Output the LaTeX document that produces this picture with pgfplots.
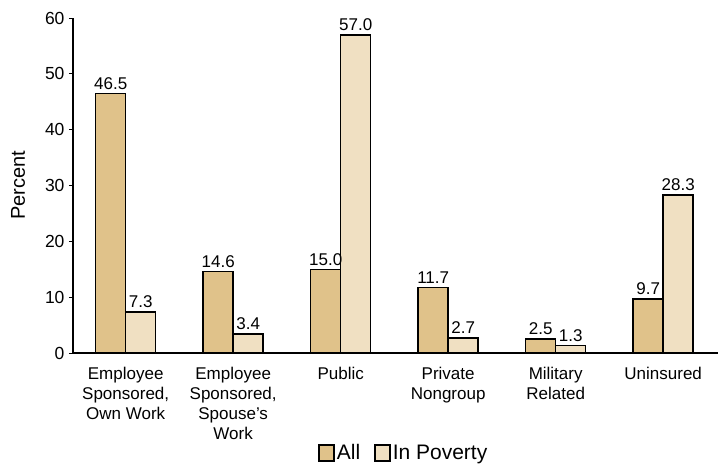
\documentclass[border=0pt]{standalone}
\usepackage{fontspec}
\setmainfont{Liberation Sans}
\usepackage{pgfplots}
\pgfplotsset{compat=1.18}
\definecolor{allc}{RGB}{224,194,138}
\definecolor{povc}{RGB}{240,224,194}
\begin{document}
\begin{tikzpicture}
\begin{axis}[
  scale only axis, width=645pt, height=335pt,
  ymin=0, ymax=60, ytick={0,10,...,60},
  xmin=-0.49, xmax=5.51,
  axis lines*=left,
  axis line style={line width=1.3pt},
  xtick={0,...,5},
  xticklabels={{Employee\\Sponsored,\\Own Work},{Employee\\Sponsored,\\Spouse’s\\Work},{Public},{Private\\Nongroup},{Military\\Related},{Uninsured}},
  x tick label style={align=center, font=\fontsize{17}{20}\selectfont, anchor=north, yshift=-7pt},
  major x tick style={draw=none},
  y tick label style={font=\fontsize{17.5}{20}\selectfont, xshift=-1pt},
  y tick style={line width=0.8pt, black},
  tick align=outside, major tick length=4pt,
  /pgf/number format/assume math mode=true,
  ylabel={Percent},
  ylabel style={font=\fontsize{20}{24}\selectfont, at={(axis description cs:-0.0853,0.5)}, anchor=center},
  ybar=0pt, bar width=30pt,
  nodes near coords,
  nodes near coords style={font=\fontsize{17}{20}\selectfont, /pgf/number format/.cd, fixed, fixed zerofill, precision=1, assume math mode=true},
  every axis plot/.append style={draw=black, line width=1.5pt},
  legend style={at={(axis description cs:0.513,-0.2985)}, anchor=center, draw=none, font=\fontsize{21}{24}\selectfont, legend columns=2, /tikz/every even column/.append style={column sep=12pt}},
  legend image code/.code={\draw[#1, line width=1.5pt] (0pt,-8pt) rectangle (15pt,8pt);},
  clip=false,
]
\addplot[fill=allc] coordinates {(0,46.5) (1,14.6) (2,15.0) (3,11.7) (4,2.5) (5,9.7)};
\addplot[fill=povc] coordinates {(0,7.3) (1,3.4) (2,57.0) (3,2.7) (4,1.3) (5,28.3)};
\legend{All, In Poverty}
\end{axis}
\pgfresetboundingbox
\useasboundingbox (-73pt,-113pt) rectangle (655pt,353pt);
\end{tikzpicture}
\end{document}
